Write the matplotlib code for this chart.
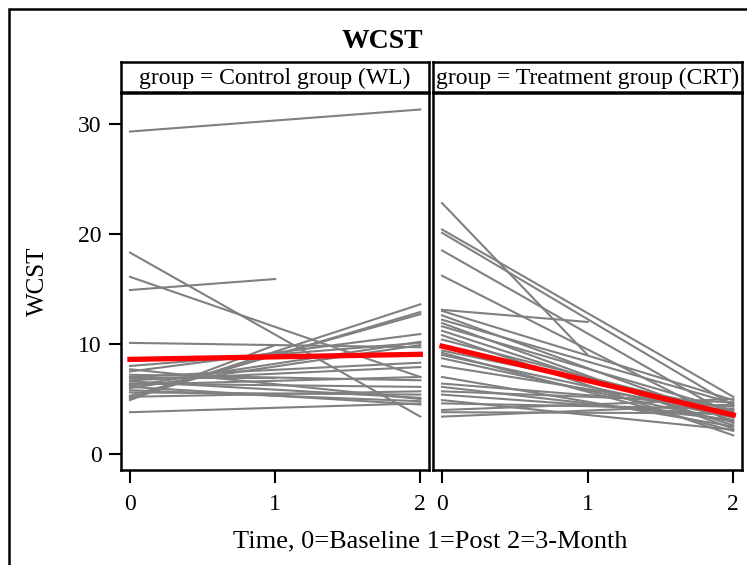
import numpy as np
import matplotlib
matplotlib.use("Agg")
import matplotlib.pyplot as plt
from matplotlib.patches import Rectangle

plt.rcParams['font.family'] = ['Liberation Serif', 'DejaVu Serif']

# individual subject trajectories: (value at t=0, value at last time, last time)
ctrl_start = [29.3, 18.3, 16.1, 14.9, 10.1, 5.0, 5.1, 5.3, 4.9, 7.5, 6.2, 6.0, 7.0,
              6.7, 3.8, 6.9, 6.4, 5.6, 6.6, 5.8, 6.1, 7.2, 7.7, 5.2, 6.3, 8.0]
ctrl_end = [31.3, 3.4, 7.0, 15.9, 9.7, 13.6, 12.9, 12.7, 9.9, 10.9, 10.2, 9.9, 8.3,
            7.9, 4.6, 6.9, 6.1, 5.4, 5.1, 4.8, 4.5, 6.7, 5.0, 5.7, 7.0, 10.1]
ctrl_last = [2, 2, 2, 1, 2, 2, 2, 2, 1, 2, 2, 2, 2,
             2, 2, 1, 2, 2, 2, 2, 2, 2, 2, 2, 2, 2]

trt_start = [22.8, 20.4, 20.1, 18.5, 16.2, 13.1, 13.0, 12.6, 12.2, 11.9, 11.6, 11.2,
             10.8, 10.4, 9.4, 9.2, 9.0, 8.7, 8.0, 7.0, 6.4, 6.1, 5.7, 5.4, 4.9,
             4.6, 4.0, 3.8, 3.4]
trt_end = [9.0, 5.2, 4.4, 3.4, 2.8, 12.0, 4.9, 3.0, 4.6, 2.3, 3.9, 2.6,
           1.7, 3.6, 4.0, 2.1, 3.3, 2.9, 3.8, 2.5, 4.3, 3.1, 4.7, 3.5, 2.2,
           4.1, 5.0, 3.7, 4.5]
trt_last = [1, 2, 2, 2, 2, 1, 2, 2, 2, 2, 2, 2,
            2, 2, 2, 2, 2, 2, 2, 2, 2, 2, 2, 2, 2,
            2, 2, 2, 2]

# group mean trajectories
mean_time = [0, 2]
ctrl_mean = [8.6, 9.06]
trt_mean = [9.8, 3.55]

panels = [
    ("group = Control group (WL)", ctrl_start, ctrl_end, ctrl_last, ctrl_mean),
    ("group = Treatment group (CRT)", trt_start, trt_end, trt_last, trt_mean),
]

W, H = 747, 565
fig = plt.figure(figsize=(W / 100, H / 100), dpi=100)

def fx(px):
    return px / W

def fy(py):
    return 1 - py / H

lefts = [121, 433]
rights = [429, 742]
top, bottom = 93, 470
strip_top = 62

for i, (name, st, en, last, mn) in enumerate(panels):
    l, r = lefts[i], rights[i]
    ax = fig.add_axes([fx(l), fy(bottom), fx(r - l), fy(top) - fy(bottom)])
    for s, e, t in zip(st, en, last):
        ax.plot([0, t], [s, e], color='#808080', lw=1.5, zorder=2)
    ax.plot(mean_time, mn, color='#ff0000', lw=3.8, zorder=3)
    ax.set_xlim(-0.062, 2.06)
    ax.set_ylim(-1.45, 32.8)
    ax.set_xticks([0, 1, 2])
    ax.tick_params(axis='x', length=9, width=1.5, labelsize=17, pad=8)
    if i == 0:
        ax.set_yticks([0, 10, 20, 30])
        ax.tick_params(axis='y', length=9, width=1.5, labelsize=17, pad=5)
    else:
        ax.set_yticks([])
    for sp in ax.spines.values():
        sp.set_linewidth(1.8)

    sax = fig.add_axes([fx(l), fy(top - 1), fx(r - l), fy(strip_top) - fy(top - 1)])
    sax.set_xticks([])
    sax.set_yticks([])
    for sp in sax.spines.values():
        sp.set_linewidth(1.8)
    sax.text(0.5, 0.45, name, ha='center', va='center', fontsize=17,
             transform=sax.transAxes)

fig.text(fx(382), fy(41), "WCST", ha='center', va='center', fontsize=20,
         fontweight='bold')
fig.text(fx(38), fy(281), "WCST", ha='center', va='center', fontsize=18,
         rotation=90)
fig.text(fx(430), fy(541), "Time, 0=Baseline 1=Post 2=3-Month", ha='center',
         va='center', fontsize=19)

# outer frame, cropped at right and bottom
fig.add_artist(Rectangle((fx(9), -0.1), 1.2, fy(9) + 0.1, transform=fig.transFigure,
                         fill=False, lw=1.8, edgecolor='black'))

fig.savefig("out.png", dpi=100)
